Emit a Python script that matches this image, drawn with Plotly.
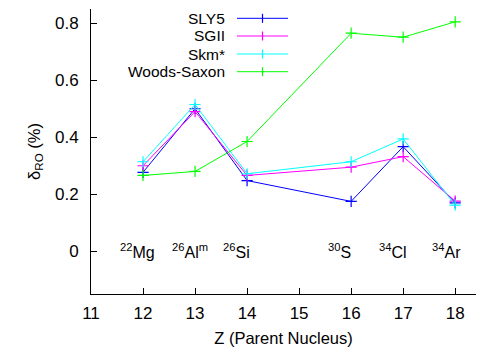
import plotly.graph_objects as go

Z = [12, 13, 14, 16, 17, 18]
series_names = ["SLY5", "SGII", "Skm*", "Woods-Saxon"]
sly5 = [0.277, 0.500, 0.248, 0.175, 0.367, 0.170]
sgii = [0.300, 0.490, 0.266, 0.295, 0.332, 0.176]
skm = [0.314, 0.515, 0.272, 0.314, 0.394, 0.162]
woods_saxon = [0.266, 0.280, 0.385, 0.765, 0.751, 0.805]
colors = ["#0000ff", "#ff00ff", "#00ffff", "#00ff00"]

nuclei_labels = ["<sup>22</sup>Mg", "<sup>26</sup>Al<sup>m</sup>", "<sup>26</sup>Si",
                 "<sup>30</sup>S", "<sup>34</sup>Cl", "<sup>34</sup>Ar"]
nuclei_x = [11.9, 12.9, 13.8, 15.77, 16.8, 17.83]

x_ticks = [11, 12, 13, 14, 15, 16, 17, 18]
y_ticks = [0, 0.2, 0.4, 0.6, 0.8]
y_tick_text = ["0", "0.2", "0.4", "0.6", "0.8"]

FONT = "Liberation Sans, Arial, sans-serif"

fig = go.Figure()
for name, ys, c in zip(series_names, [sly5, sgii, skm, woods_saxon], colors):
    fig.add_trace(go.Scatter(
        x=Z, y=ys, mode="lines+markers", name=name,
        line=dict(color=c, width=1),
        marker=dict(symbol="cross-thin-open", size=8, line=dict(color=c, width=1.2)),
        showlegend=False,
    ))

# nuclei labels
for t, xv in zip(nuclei_labels, nuclei_x):
    fig.add_annotation(x=xv, y=0, text=t, showarrow=False, xanchor="center", yanchor="middle",
                       font=dict(family=FONT, size=16, color="black"))

# custom legend (text left of the sample line)
W, H = 478, 347
ml, mr, mt, mb = 91, 2, 9, 53
pw, ph = W - ml - mr, H - mt - mb
def px(x):
    return (x - ml) / pw
def py(y):
    return 1 - (y - mt) / ph

legend_rows = [18.3, 36, 54, 71.7]
for name, c, yr in zip(series_names, colors, legend_rows):
    fig.add_annotation(xref="paper", yref="paper", x=px(227), y=py(yr), text=name,
                       showarrow=False, xanchor="right", yanchor="middle",
                       font=dict(family=FONT, size=15.5, color="black"))
    fig.add_shape(type="line", xref="paper", yref="paper", x0=px(237), x1=px(288),
                  y0=py(yr), y1=py(yr), line=dict(color=c, width=1))
    fig.add_shape(type="line", xref="paper", yref="paper", x0=px(262.5), x1=px(262.5),
                  y0=py(yr - 4.5), y1=py(yr + 4.5), line=dict(color=c, width=1.2))

fig.update_layout(
    width=W, height=H,
    margin=dict(l=ml, r=mr, t=mt, b=mb, autoexpand=False),
    plot_bgcolor="white", paper_bgcolor="white",
    font=dict(family=FONT, size=17, color="black"),
    xaxis=dict(range=[11, 18.4], tickvals=x_ticks, ticks="inside", ticklen=6,
               tickcolor="black", showline=True, linecolor="black", linewidth=1,
               showgrid=False, zeroline=False, mirror=False, automargin=False,
               ticklabelstandoff=4,
               title=dict(text="Z (Parent Nucleus)", standoff=11, font=dict(size=16.5)),
               tickfont=dict(size=17)),
    yaxis=dict(range=[-0.15, 0.85], tickvals=y_ticks, ticktext=y_tick_text, ticks="inside",
               ticklen=6, tickcolor="black", showline=True, linecolor="black", linewidth=1,
               showgrid=False, zeroline=False, mirror=False, automargin=False,
               ticklabelstandoff=8,
               title=dict(text="δ<sub>RO</sub> (%)", standoff=10, font=dict(size=16.5)),
               tickfont=dict(size=17)),
)

fig.write_html("out.html", config={"displayModeBar": False},
               post_script="document.body.style.margin='0';")
